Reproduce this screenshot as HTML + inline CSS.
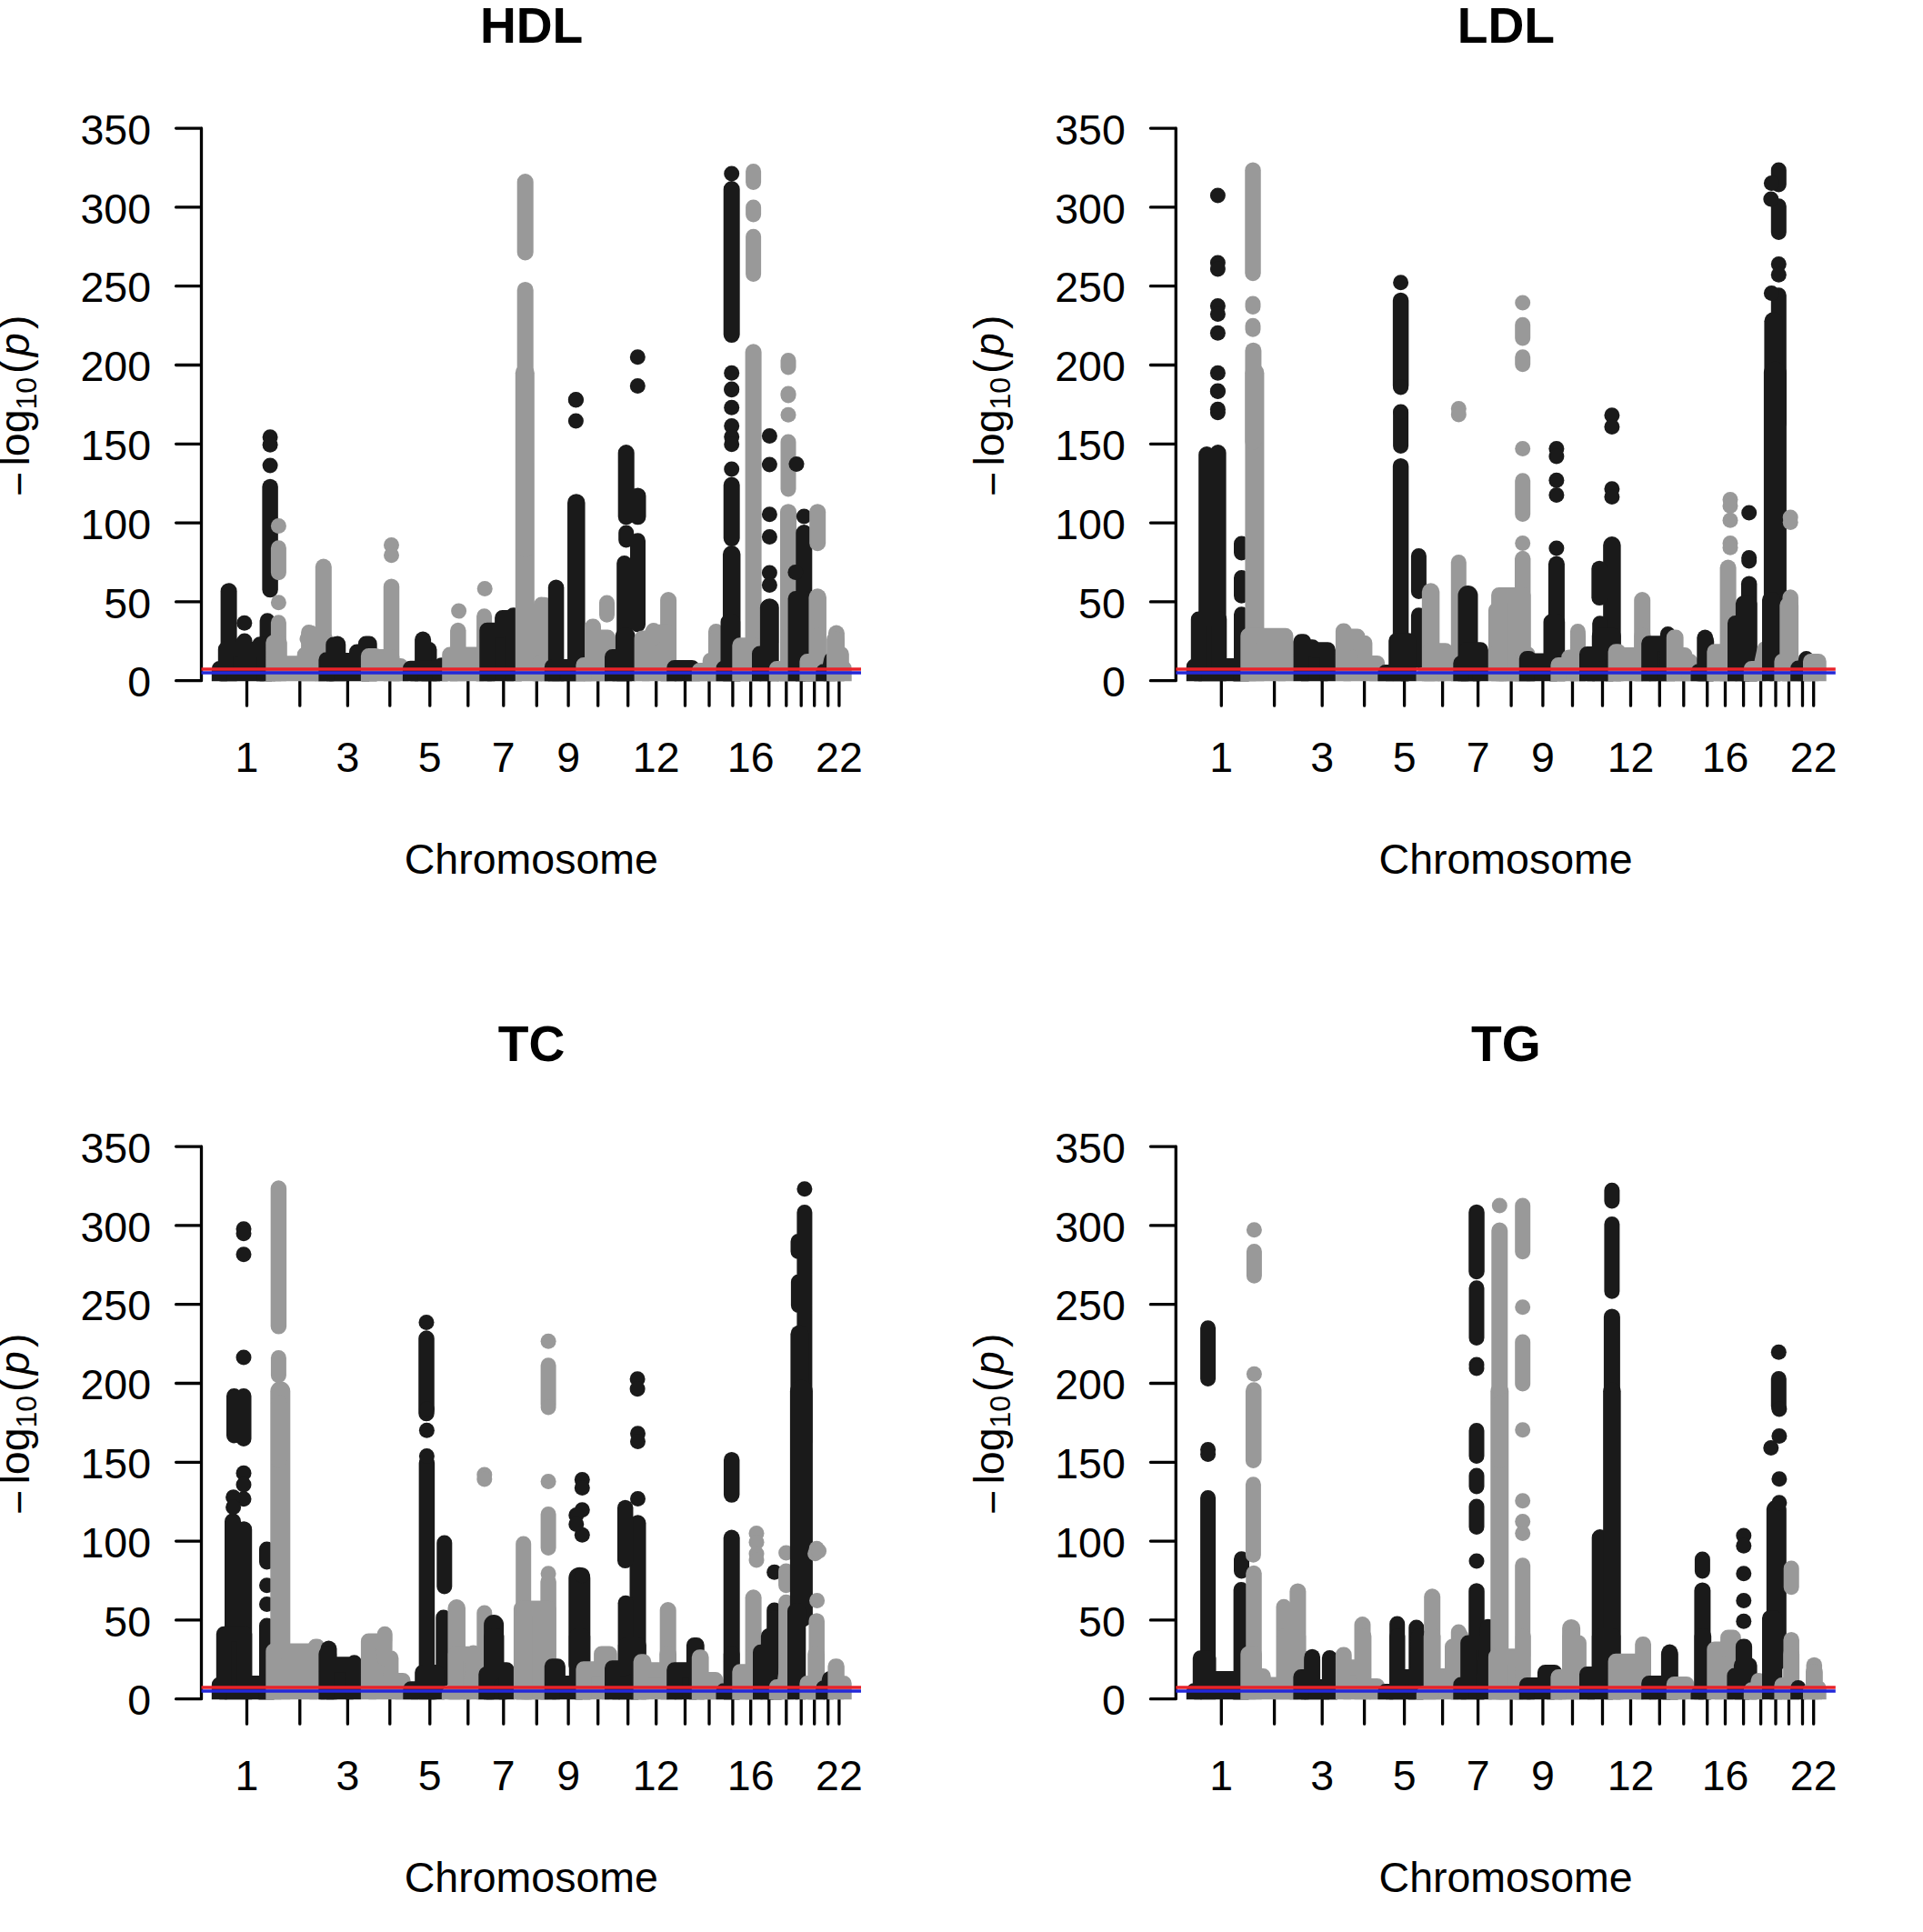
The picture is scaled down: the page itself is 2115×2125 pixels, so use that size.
<!DOCTYPE html>
<html lang="en"><head><meta charset="utf-8"><title>Manhattan plots: HDL, LDL, TC, TG</title>
<style>
html,body{margin:0;padding:0;background:#fff}
svg{display:block}
text{font-family:"Liberation Sans",Arial,Helvetica,sans-serif;fill:#000}
.ax path{fill:none;stroke:#000;stroke-width:3.3;stroke-linecap:round;stroke-linejoin:round}
.k{fill:#1a1a1a;stroke:#1a1a1a}
.g{fill:#999999;stroke:#999999}
.k path,.g path{fill:none;stroke-linecap:round;stroke-linejoin:round}
.k path.s,.g path.s{fill:inherit;stroke-width:17}
.k .s{fill:#1a1a1a}.g .s{fill:#999999}
circle{stroke:none;r:8.5px}
.rl{stroke:#e8232a;stroke-width:3.4;fill:none}
.bl{stroke:#2328d8;stroke-width:3.4;fill:none}
.ti{font-size:55.2px;font-weight:bold;text-anchor:middle}
.yl{font-size:46.5px;text-anchor:end}
.xl{font-size:46.5px;text-anchor:middle}
.lb{font-size:46.5px}
.sb{font-size:32px}
.it{font-style:italic}
</style></head><body>
<svg width="2115" height="2125" viewBox="0 0 2115 2125">
<defs><clipPath id="cp"><rect x="221.5" y="100" width="725.5" height="649.3"/></clipPath></defs>
<rect width="2115" height="2125" fill="#fff"/>
<g transform="translate(0,0)">
<g class="ax">
<path d="M221.5 141V748.7M221.5 748.7H193.6M221.5 661.9H193.6M221.5 575.1H193.6M221.5 488.3H193.6M221.5 401.5H193.6M221.5 314.7H193.6M221.5 227.9H193.6M221.5 141.1H193.6M271.5 748.7V776.2M329.8 748.7V776.2M382.4 748.7V776.2M428.8 748.7V776.2M472.8 748.7V776.2M514.8 748.7V776.2M553.8 748.7V776.2M590.3 748.7V776.2M625.1 748.7V776.2M657.7 748.7V776.2M690.7 748.7V776.2M721.7 748.7V776.2M753.5 748.7V776.2M780 748.7V776.2M805.9 748.7V776.2M825.7 748.7V776.2M845.8 748.7V776.2M864.8 748.7V776.2M881.2 748.7V776.2M895.7 748.7V776.2M910.7 748.7V776.2M922.9 748.7V776.2"/>
</g>
<g clip-path="url(#cp)">
<g class="k">
<path stroke-width="18" d="M251.6 650.2V750.7"/>
<path stroke-width="17" d="M294.1 682.8V750.7"/>
<path stroke-width="17.5" d="M297.1 535.5V648.6"/>
<path class="s" d="M241.3 760.7L241.3 760.7L241.3 735.5L248.3 735.5L248.3 714L269 714L269 705.1L269 705.1L261.9 714.6L285.8 714.6L285.8 708.7L290.6 708.7L290.6 760.7L290.6 760.7Z"/>
<circle cx="268.8" cy="685.3"/>
<circle cx="297.1" cy="480.8"/>
<circle cx="297.1" cy="489.3"/>
<circle cx="297.1" cy="512"/>
</g>
<g class="g">
<path stroke-width="17" d="M306.4 684.7V750.7M306.4 602.7V629.8M339.6 695.6V750.7"/>
<path stroke-width="18" d="M355.8 623.5V750.7"/>
<path class="s" d="M300.8 760.7L300.8 760.7L300.8 706.7L307.3 706.7L307.3 729.8L335.2 729.8L335.2 719.9L342.1 719.9L342.1 696.2L342.1 696.2L338 702.7L357.7 702.7L357.7 760.7L357.7 760.7Z"/>
<circle cx="306.4" cy="578.6"/>
<circle cx="306.4" cy="662.8"/>
</g>
<g class="k">
<path stroke-width="18" d="M371.2 708.5V750.7"/>
<path class="s" d="M358.9 760.7L358.9 760.7L358.9 725.8L366.8 725.8L366.8 709.1L371.6 709.1L371.6 726.4L392.5 726.4L392.5 717L402.4 717L402.4 708.1L406.2 708.1L406.2 760.7L406.2 760.7Z"/>
</g>
<g class="g">
<path stroke-width="17.5" d="M430.5 645.2V750.7"/>
<path class="s" d="M405.4 760.7L405.4 760.7L405.4 721.5L413.1 721.5L413.1 722.5L430.9 722.5L430.9 732.4L440.7 732.4L440.7 760.7L440.7 760.7Z"/>
<circle cx="430.5" cy="599.4"/>
<circle cx="430.5" cy="610.8"/>
</g>
<g class="k">
<path stroke-width="17" d="M472 714.6V750.7"/>
<path stroke-width="18" d="M465.1 703.5V750.7"/>
<path class="s" d="M451.4 760.7L451.4 760.7L451.4 735.3L485.4 735.3L485.4 731.8L485.4 731.8L483.2 760.7L483.2 760.7Z"/>
</g>
<g class="g">
<path stroke-width="17.5" d="M503.8 693.6V750.7"/>
<path stroke-width="17" d="M532.6 677.8V750.7"/>
<path class="s" d="M494.7 760.7L494.7 760.7L494.7 719.9L532.8 719.9L532.8 718.5L532.8 718.5L531.7 760.7L531.7 760.7Z"/>
<circle cx="504.6" cy="672.1"/>
<circle cx="533.2" cy="647.4"/>
</g>
<g class="k">
<path class="s" d="M535.8 760.7L535.8 760.7L535.8 693.2L552.6 693.2L552.6 679.4L564.5 679.4L564.5 676.8L565.3 676.8L565.3 760.7L565.3 760.7Z"/>
</g>
<g class="g">
<path stroke-width="21" d="M577.3 410.2V750.7"/>
<path stroke-width="17" d="M595.5 665V750.7M598.8 665.3V750.7"/>
<path stroke-width="18" d="M577.7 200V277.4M577.7 318.9V604.3"/>
<path class="s" d="M594.4 760.7L594.4 760.7L594.4 728.5L596.2 728.5L596.2 760.7L596.2 760.7Z"/>
</g>
<g class="k">
<path stroke-width="17.5" d="M611.6 646.2V750.7"/>
<path stroke-width="19.5" d="M633.8 552.9V750.7"/>
<path class="s" d="M607.3 760.7L607.3 760.7L607.3 733.5L624.9 733.5L624.9 760.7L624.9 760.7Z"/>
<circle cx="633.4" cy="439.5"/>
<circle cx="633.4" cy="463"/>
<circle cx="633.4" cy="439.9"/>
</g>
<g class="g">
<path stroke-width="17" d="M652.1 689.7V750.7M667.5 663V676.2"/>
<path class="s" d="M641.9 760.7L641.9 760.7L641.9 731.5L651.7 731.5L651.7 689L652.5 689L652.5 700.9L668.3 700.9L668.3 760.7L668.3 760.7Z"/>
</g>
<g class="k">
<path stroke-width="18" d="M688.7 498V568.3M701.5 545.4V568.3"/>
<path stroke-width="17" d="M688.7 585.9V594M686.7 619.5V750.7M701.5 594.8V686.9"/>
<path class="s" d="M673.5 760.7L673.5 760.7L673.5 722.6L685.3 722.6L685.3 699.3L690.1 699.3L690.1 760.7L690.1 760.7Z"/>
<circle cx="701.3" cy="392.8"/>
<circle cx="701.3" cy="424.5"/>
</g>
<g class="g">
<path stroke-width="18" d="M735.1 660V750.7"/>
<path class="s" d="M706.1 760.7L706.1 760.7L706.1 701.9L718.9 701.9L718.9 693.4L718.9 693.4L717.7 695.3L735.5 695.3L735.5 760.7L735.5 760.7Z"/>
</g>
<g class="k">
<path class="s" d="M741.7 760.7L741.7 760.7L741.7 734.5L761.2 734.5L761.2 760.7L761.2 760.7Z"/>
</g>
<g class="g">
<path stroke-width="17" d="M787.5 694.6V750.7"/>
<path class="s" d="M769.3 760.7L769.3 760.7L769.3 737.4L781.2 737.4L781.2 726.6L789.1 726.6L789.1 699.3L789.1 699.3L786.9 760.7L786.9 760.7Z"/>
</g>
<g class="k">
<path stroke-width="18" d="M804.7 533.6V592.1M804.7 208.1V368.1"/>
<path stroke-width="19.5" d="M804.7 609.8V750.7"/>
<path class="s" d="M796 760.7L796 760.7L796 734.9L801 734.9L801 684.1L805.7 684.1L805.7 760.7L805.7 760.7Z"/>
<circle cx="804.7" cy="428"/>
<circle cx="804.7" cy="448.2"/>
<circle cx="804.7" cy="468.5"/>
<circle cx="804.7" cy="480.4"/>
<circle cx="804.7" cy="488.7"/>
<circle cx="804.7" cy="516"/>
<circle cx="804.7" cy="190.9"/>
<circle cx="804.7" cy="410.2"/>
<circle cx="804.7" cy="428.8"/>
</g>
<g class="g">
<path stroke-width="18" d="M828.6 410.2V750.7M828.6 387.3V604.3"/>
<path stroke-width="17" d="M828.6 188.5V200.4M828.6 228V235.9M828.6 260.2V301.5"/>
<path class="s" d="M813.8 760.7L813.8 760.7L813.8 709.8L828.4 709.8L828.4 760.7L828.4 760.7Z"/>
</g>
<g class="k">
<path stroke-width="19.5" d="M846.4 667.9V706.7"/>
<path class="s" d="M835.5 760.7L835.5 760.7L835.5 719.1L844.4 719.1L844.4 667.9L848.2 667.9L848.2 760.7L848.2 760.7Z"/>
<circle cx="846.4" cy="479.4"/>
<circle cx="846.4" cy="511"/>
<circle cx="846.4" cy="565.8"/>
<circle cx="846.4" cy="590.5"/>
<circle cx="846.4" cy="630"/>
<circle cx="846.4" cy="643.4"/>
</g>
<g class="g">
<path stroke-width="18" d="M867 563.2V750.7"/>
<path stroke-width="17" d="M867 486.1V537.9M867 396.6V403.9"/>
<path class="s" d="M854.3 760.7L854.3 760.7L854.3 735.5L867.2 735.5L867.2 699.3L867.2 699.3L867 760.7L867 760.7Z"/>
<circle cx="867" cy="434.9"/>
<circle cx="867" cy="456.3"/>
<circle cx="867" cy="433"/>
</g>
<g class="k">
<path stroke-width="18" d="M884.3 586.1V750.7"/>
<path class="s" d="M875.1 760.7L875.1 760.7L875.1 658.4L885.7 658.4L885.7 760.7L885.7 760.7Z"/>
<circle cx="884.3" cy="568.1"/>
<circle cx="876" cy="510.4"/>
<circle cx="874.9" cy="629.6"/>
</g>
<g class="g">
<path stroke-width="19.5" d="M899.2 657.1V750.7"/>
<path stroke-width="18" d="M899.2 563.2V597.2"/>
<path class="s" d="M887.9 760.7L887.9 760.7L887.9 727.5L898.8 727.5L898.8 699.3L899.6 699.3L899.6 760.7L899.6 760.7Z"/>
</g>
<g class="k">
<path class="s" d="M905.7 760.7L905.7 760.7L905.7 738.8L914.6 738.8L914.6 725.6L914.6 725.6L907.5 760.7L907.5 760.7Z"/>
</g>
<g class="g">
<path stroke-width="18" d="M919.9 696.6V750.7"/>
<path class="s" d="M917.6 760.7L917.6 760.7L917.6 703.2L920.3 703.2L920.3 719.6L925.3 719.6L925.3 734.9L928.2 734.9L928.2 760.7L928.2 760.7Z"/>
</g>
</g>
<path class="bl" d="M221.5 740H947"/>
<path class="rl" d="M221.5 736H947"/>
<text class="ti" x="584.6" y="46.9">HDL</text>
<text class="yl" x="166" y="766.3">0</text>
<text class="yl" x="166" y="679.5">50</text>
<text class="yl" x="166" y="592.7">100</text>
<text class="yl" x="166" y="505.9">150</text>
<text class="yl" x="166" y="419.1">200</text>
<text class="yl" x="166" y="332.3">250</text>
<text class="yl" x="166" y="245.5">300</text>
<text class="yl" x="166" y="158.7">350</text>
<text class="xl" x="271.5" y="849.1">1</text>
<text class="xl" x="382.4" y="849.1">3</text>
<text class="xl" x="472.8" y="849.1">5</text>
<text class="xl" x="553.8" y="849.1">7</text>
<text class="xl" x="625.1" y="849.1">9</text>
<text class="xl" x="721.7" y="849.1">12</text>
<text class="xl" x="825.7" y="849.1">16</text>
<text class="xl" x="922.9" y="849.1">22</text>
<text class="xl" x="584.3" y="961">Chromosome</text>
<g transform="translate(32,546) rotate(-90)"><text class="lb" x="0" y="4.5">−</text><text class="lb" x="33.5" y="0">log</text><text class="sb" x="95.5" y="7.5">10</text><text class="lb" x="135" y="0">(</text><text class="lb it" x="154" y="0">p</text><text class="lb" x="184" y="0">)</text></g>
</g>
<g transform="translate(1071.8,0)">
<g class="ax">
<path d="M221.5 141V748.7M221.5 748.7H193.6M221.5 661.9H193.6M221.5 575.1H193.6M221.5 488.3H193.6M221.5 401.5H193.6M221.5 314.7H193.6M221.5 227.9H193.6M221.5 141.1H193.6M271.5 748.7V776.2M329.8 748.7V776.2M382.4 748.7V776.2M428.8 748.7V776.2M472.8 748.7V776.2M514.8 748.7V776.2M553.8 748.7V776.2M590.3 748.7V776.2M625.1 748.7V776.2M657.7 748.7V776.2M690.7 748.7V776.2M721.7 748.7V776.2M753.5 748.7V776.2M780 748.7V776.2M805.9 748.7V776.2M825.7 748.7V776.2M845.8 748.7V776.2M864.8 748.7V776.2M881.2 748.7V776.2M895.7 748.7V776.2M910.7 748.7V776.2M922.9 748.7V776.2"/>
</g>
<g clip-path="url(#cp)">
<g class="k">
<path stroke-width="18" d="M255.4 500V750.7M267.8 498V750.7"/>
<path stroke-width="17" d="M293.7 598V607.9M293.7 635.5V655.3M293.7 675.8V750.7"/>
<path class="s" d="M241.5 760.7L241.5 760.7L241.5 732.9L246.5 732.9L246.5 681.1L269 681.1L269 732.5L295.9 732.5L295.9 730.9L295.9 730.9L290.8 760.7L290.8 760.7Z"/>
<circle cx="267.6" cy="453.7"/>
<circle cx="267.6" cy="430"/>
<circle cx="267.6" cy="215"/>
<circle cx="267.6" cy="289.1"/>
<circle cx="267.6" cy="296"/>
<circle cx="267.6" cy="336.5"/>
<circle cx="267.6" cy="345.4"/>
<circle cx="267.6" cy="366.2"/>
<circle cx="267.6" cy="410.2"/>
<circle cx="267.6" cy="430.4"/>
<circle cx="267.6" cy="450.2"/>
</g>
<g class="g">
<path stroke-width="21" d="M308.1 410.2V750.7"/>
<path stroke-width="17.5" d="M306.2 187.3V300.4"/>
<path stroke-width="17" d="M306.2 334V337.5M306.2 358.3V362.2"/>
<path stroke-width="18" d="M306.6 385.7V485.7"/>
<path class="s" d="M301 760.7L301 760.7L301 699.3L342.1 699.3L342.1 760.7L342.1 760.7Z"/>
</g>
<g class="k">
<path class="s" d="M359.1 760.7L359.1 760.7L359.1 705.8L361.9 705.8L361.9 711.7L371.8 711.7L371.8 714.7L388.6 714.7L388.6 760.7L388.6 760.7Z"/>
</g>
<g class="g">
<path class="s" d="M405.6 760.7L405.6 760.7L405.6 694L406.4 694L406.4 699.9L421.2 699.9L421.2 707.2L429.1 707.2L429.1 729.5L442.9 729.5L442.9 760.7L442.9 760.7Z"/>
</g>
<g class="k">
<path stroke-width="17.5" d="M468.8 512.8V750.7M468.8 330.4V424.3"/>
<path stroke-width="17" d="M468.8 453.5V490.5M488.6 611.6V650.6M488.6 676.8V726.4"/>
<path class="s" d="M452 760.7L452 760.7L452 739.4L463.9 739.4L463.9 704.8L477.5 704.8L477.5 760.7L477.5 760.7Z"/>
<circle cx="468.8" cy="426"/>
<circle cx="468.8" cy="310.8"/>
<circle cx="468.8" cy="452.9"/>
</g>
<g class="g">
<path stroke-width="19.5" d="M501.8 651.1V750.7"/>
<path stroke-width="17" d="M532.5 618.5V750.7"/>
<path class="s" d="M494.5 760.7L494.5 760.7L494.5 742.8L501 742.8L501 715.7L518 715.7L518 760.7L518 760.7Z"/>
<circle cx="532.5" cy="449.6"/>
<circle cx="532.5" cy="455.9"/>
</g>
<g class="k">
<path stroke-width="22" d="M542.7 655.1V750.7"/>
<path class="s" d="M535 760.7L535 760.7L535 729.5L541 729.5L541 714.7L556.6 714.7L556.6 760.7L556.6 760.7Z"/>
</g>
<g class="g">
<path stroke-width="17" d="M602.9 357.3V372.1M602.9 392.8V400.8M602.9 528.8V565.4"/>
<path stroke-width="17.5" d="M602.9 614.6V750.7"/>
<path class="s" d="M573.6 760.7L573.6 760.7L573.6 671.2L587.4 671.2L587.4 654.4L599.1 654.4L599.1 760.7L599.1 760.7Z"/>
<path class="s" d="M576.8 760.7L576.8 760.7L576.8 654.4L603.3 654.4L603.3 719.6L608.3 719.6L608.3 760.7L608.3 760.7Z"/>
<circle cx="602.9" cy="333"/>
<circle cx="602.9" cy="493.6"/>
<circle cx="602.9" cy="597.6"/>
</g>
<g class="k">
<path stroke-width="18" d="M640.1 620.5V714.6"/>
<path class="s" d="M607.5 760.7L607.5 760.7L607.5 724.6L610.2 724.6L610.2 727L634.2 727L634.2 684.1L640.9 684.1L640.9 760.7L640.9 760.7Z"/>
<circle cx="640.1" cy="493.6"/>
<circle cx="640.1" cy="502.1"/>
<circle cx="640.1" cy="528.2"/>
<circle cx="640.1" cy="544.6"/>
<circle cx="640.1" cy="602.9"/>
</g>
<g class="g">
<path stroke-width="17" d="M663.6 694.6V750.7"/>
<path class="s" d="M642.1 760.7L642.1 760.7L642.1 731.5L653.9 731.5L653.9 723L663.8 723L663.8 699.3L663.8 699.3L663.6 760.7L663.6 760.7Z"/>
</g>
<g class="k">
<path stroke-width="19.5" d="M701.1 599.8V712.6"/>
<path stroke-width="17.5" d="M687.3 625.5V657.3"/>
<path stroke-width="17" d="M687.9 685.7V750.7"/>
<path class="s" d="M673.7 760.7L673.7 760.7L673.7 719.6L687.5 719.6L687.5 699.3L702.5 699.3L702.5 760.7L702.5 760.7Z"/>
<circle cx="701.1" cy="456.7"/>
<circle cx="701.1" cy="469.5"/>
<circle cx="701.1" cy="537.7"/>
<circle cx="701.1" cy="546.6"/>
</g>
<g class="g">
<path stroke-width="18" d="M734.4 660V750.7"/>
<path class="s" d="M705.3 760.7L705.3 760.7L705.3 716.7L708.1 716.7L708.1 720.6L734 720.6L734 699.3L735.3 699.3L735.3 760.7L735.3 760.7Z"/>
</g>
<g class="k">
<path class="s" d="M741.9 760.7L741.9 760.7L741.9 707.8L762.6 707.8L762.6 697.5L762.6 697.5L761.4 760.7L761.4 760.7Z"/>
</g>
<g class="g">
<path class="s" d="M769.5 760.7L769.5 760.7L769.5 700.9L771.3 700.9L771.3 720.6L781.2 720.6L781.2 727.5L787.1 727.5L787.1 760.7L787.1 760.7Z"/>
</g>
<g class="k">
<path stroke-width="18" d="M803.5 701.5V750.7"/>
<path class="s" d="M796.2 760.7L796.2 760.7L796.2 738.8L804.1 738.8L804.1 705.2L804.9 705.2L804.9 760.7L804.9 760.7Z"/>
</g>
<g class="g">
<path stroke-width="18" d="M828.8 624.5V750.7"/>
<path class="s" d="M814 760.7L814 760.7L814 716.7L828.8 716.7L828.8 699.3L830.6 699.3L830.6 760.7L830.6 760.7Z"/>
<circle cx="831.2" cy="549.6"/>
<circle cx="831.2" cy="556.5"/>
<circle cx="831.2" cy="572.3"/>
<circle cx="831.2" cy="597.6"/>
<circle cx="831.2" cy="602.3"/>
</g>
<g class="k">
<path stroke-width="17.5" d="M851.9 642.3V750.7"/>
<path class="s" d="M836.7 760.7L836.7 760.7L836.7 685.5L845.6 685.5L845.6 663.7L852.3 663.7L852.3 760.7L852.3 760.7Z"/>
<circle cx="851.9" cy="564"/>
<circle cx="851.9" cy="613.6"/>
<circle cx="851.9" cy="617"/>
</g>
<g class="g">
<path class="s" d="M854.5 760.7L854.5 760.7L854.5 735.5L869.3 735.5L869.3 713.7L869.3 713.7L859.2 760.7L859.2 760.7Z"/>
</g>
<g class="k">
<path stroke-width="17" d="M884.5 187.1V203.1M884.5 226.8V255.5M884.5 324.7V466"/>
<path stroke-width="20" d="M878.6 353.3V466"/>
<path stroke-width="25" d="M880.6 410.2V686.9"/>
<path class="s" d="M874.7 760.7L874.7 760.7L874.7 659.8L878 659.8L878 760.7L878 760.7Z"/>
<circle cx="876.6" cy="201.5"/>
<circle cx="876" cy="218.9"/>
<circle cx="884.5" cy="290.5"/>
<circle cx="884.5" cy="302.3"/>
<circle cx="876.6" cy="322.5"/>
</g>
<g class="g">
<path stroke-width="17.5" d="M897.4 657.1V750.7"/>
<path class="s" d="M888.1 760.7L888.1 760.7L888.1 727.5L894 727.5L894 665.7L897.8 665.7L897.8 760.7L897.8 760.7Z"/>
<circle cx="897.4" cy="569.1"/>
<circle cx="897.4" cy="574.5"/>
</g>
<g class="k">
<path class="s" d="M905.9 760.7L905.9 760.7L905.9 734.9L914.8 734.9L914.8 724.6L914.8 724.6L910 760.7L910 760.7Z"/>
</g>
<g class="g">
<path class="s" d="M919.7 760.7L919.7 760.7L919.7 727.5L928.4 727.5L928.4 760.7L928.4 760.7Z"/>
</g>
</g>
<path class="bl" d="M221.5 740H947"/>
<path class="rl" d="M221.5 736H947"/>
<text class="ti" x="584.6" y="46.9">LDL</text>
<text class="yl" x="166" y="766.3">0</text>
<text class="yl" x="166" y="679.5">50</text>
<text class="yl" x="166" y="592.7">100</text>
<text class="yl" x="166" y="505.9">150</text>
<text class="yl" x="166" y="419.1">200</text>
<text class="yl" x="166" y="332.3">250</text>
<text class="yl" x="166" y="245.5">300</text>
<text class="yl" x="166" y="158.7">350</text>
<text class="xl" x="271.5" y="849.1">1</text>
<text class="xl" x="382.4" y="849.1">3</text>
<text class="xl" x="472.8" y="849.1">5</text>
<text class="xl" x="553.8" y="849.1">7</text>
<text class="xl" x="625.1" y="849.1">9</text>
<text class="xl" x="721.7" y="849.1">12</text>
<text class="xl" x="825.7" y="849.1">16</text>
<text class="xl" x="922.9" y="849.1">22</text>
<text class="xl" x="584.3" y="961">Chromosome</text>
<g transform="translate(32,546) rotate(-90)"><text class="lb" x="0" y="4.5">−</text><text class="lb" x="33.5" y="0">log</text><text class="sb" x="95.5" y="7.5">10</text><text class="lb" x="135" y="0">(</text><text class="lb it" x="154" y="0">p</text><text class="lb" x="184" y="0">)</text></g>
</g>
<g transform="translate(0,1120)">
<g class="ax">
<path d="M221.5 141V748.7M221.5 748.7H193.6M221.5 661.9H193.6M221.5 575.1H193.6M221.5 488.3H193.6M221.5 401.5H193.6M221.5 314.7H193.6M221.5 227.9H193.6M221.5 141.1H193.6M271.5 748.7V776.2M329.8 748.7V776.2M382.4 748.7V776.2M428.8 748.7V776.2M472.8 748.7V776.2M514.8 748.7V776.2M553.8 748.7V776.2M590.3 748.7V776.2M625.1 748.7V776.2M657.7 748.7V776.2M690.7 748.7V776.2M721.7 748.7V776.2M753.5 748.7V776.2M780 748.7V776.2M805.9 748.7V776.2M825.7 748.7V776.2M845.8 748.7V776.2M864.8 748.7V776.2M881.2 748.7V776.2M895.7 748.7V776.2M910.7 748.7V776.2M922.9 748.7V776.2"/>
</g>
<g clip-path="url(#cp)">
<g class="k">
<path stroke-width="18" d="M256 553.3V750.7M268.2 562.2V750.7"/>
<path stroke-width="17" d="M257.5 415.4V458.9M268 415.4V462.6M293.5 584V598M293.5 667.9V750.7"/>
<path class="s" d="M241.3 760.7L241.3 760.7L241.3 732.9L246.3 732.9L246.3 677.2L268.8 677.2L268.8 731.5L295.7 731.5L295.7 728.9L295.7 728.9L290.6 760.7L290.6 760.7Z"/>
<circle cx="268" cy="500.2"/>
<circle cx="268" cy="513"/>
<circle cx="268" cy="528.8"/>
<circle cx="256.6" cy="526.8"/>
<circle cx="256.6" cy="537.7"/>
<circle cx="293.5" cy="623.7"/>
<circle cx="293.5" cy="644.4"/>
<circle cx="268" cy="231.8"/>
<circle cx="268" cy="236.7"/>
<circle cx="268" cy="259.8"/>
<circle cx="268" cy="373.1"/>
</g>
<g class="g">
<path stroke-width="22" d="M308.3 410.2V750.7"/>
<path stroke-width="17.5" d="M306.4 187.1V338.7"/>
<path stroke-width="17" d="M306.4 373.5V392.8"/>
<path stroke-width="18" d="M307 423.3V485.7"/>
<path class="s" d="M300.8 760.7L300.8 760.7L300.8 695.9L347.1 695.9L347.1 691L348.9 691L348.9 760.7L348.9 760.7Z"/>
</g>
<g class="k">
<path stroke-width="18" d="M361.5 693.6V750.7"/>
<path class="s" d="M358.9 760.7L358.9 760.7L358.9 699.3L361.7 699.3L361.7 710.8L389.6 710.8L389.6 708.8L389.6 708.8L388.4 760.7L388.4 760.7Z"/>
</g>
<g class="g">
<path class="s" d="M405.4 760.7L405.4 760.7L405.4 685.1L423.2 685.1L423.2 677.2L423.2 677.2L423 703.8L429.9 703.8L429.9 728.5L443.1 728.5L443.1 760.7L443.1 760.7Z"/>
</g>
<g class="k">
<path stroke-width="17.5" d="M469.4 489.3V750.7M469 352.1V434.5"/>
<path stroke-width="17" d="M488.8 577V624.9M487.8 659.1V726.4"/>
<path class="s" d="M451.8 760.7L451.8 760.7L451.8 737.8L464.7 737.8L464.7 719.6L480.3 719.6L480.3 760.7L480.3 760.7Z"/>
<circle cx="469.4" cy="430"/>
<circle cx="469.4" cy="453.3"/>
<circle cx="469.4" cy="481.4"/>
<circle cx="469" cy="334.5"/>
</g>
<g class="g">
<path stroke-width="19.5" d="M502.2 648.8V750.7"/>
<path stroke-width="17" d="M532.8 654.1V750.7"/>
<path class="s" d="M494.3 760.7L494.3 760.7L494.3 742.8L501.2 742.8L501.2 699.3L520.6 699.3L520.6 697.9L520.6 697.9L517.8 760.7L517.8 760.7Z"/>
<circle cx="532.8" cy="502.1"/>
<circle cx="532.8" cy="507.1"/>
</g>
<g class="k">
<path stroke-width="22" d="M543.1 667V750.7"/>
<path class="s" d="M534.8 760.7L534.8 760.7L534.8 721.6L540.8 721.6L540.8 679.5L545.9 679.5L545.9 716.7L557.3 716.7L557.3 760.7L557.3 760.7Z"/>
</g>
<g class="g">
<path stroke-width="17" d="M575.7 578V750.7M603.1 381.8V424.7M603.1 545.4V582.4"/>
<path stroke-width="17.5" d="M603.1 619.7V750.7"/>
<path class="s" d="M573.4 760.7L573.4 760.7L573.4 649.3L598.9 649.3L598.9 760.7L598.9 760.7Z"/>
<path class="s" d="M576.6 760.7L576.6 760.7L576.6 649.3L603.1 649.3L603.1 760.7L603.1 760.7Z"/>
<circle cx="603.1" cy="355.3"/>
<circle cx="603.1" cy="428"/>
<circle cx="603.1" cy="509.4"/>
<circle cx="603.1" cy="610.8"/>
</g>
<g class="k">
<path stroke-width="24" d="M637.3 615.8V710.6"/>
<path class="s" d="M607.3 760.7L607.3 760.7L607.3 712.7L613.4 712.7L613.4 731.5L634.3 731.5L634.3 679.5L640.7 679.5L640.7 760.7L640.7 760.7Z"/>
<circle cx="640.3" cy="507.5"/>
<circle cx="640.3" cy="516.6"/>
<circle cx="640.3" cy="540.7"/>
<circle cx="640.3" cy="568.3"/>
<circle cx="640.3" cy="612.8"/>
<circle cx="633.8" cy="546.6"/>
<circle cx="633.8" cy="556.5"/>
</g>
<g class="g">
<path class="s" d="M641.9 760.7L641.9 760.7L641.9 715.7L661.6 715.7L661.6 698.9L670.3 698.9L670.3 760.7L670.3 760.7Z"/>
</g>
<g class="k">
<path stroke-width="18" d="M701.5 555.3V706.7"/>
<path stroke-width="17.5" d="M687.7 538.5V596.2"/>
<path stroke-width="17" d="M688.1 643.2V750.7"/>
<path class="s" d="M673.5 760.7L673.5 760.7L673.5 714.7L688.3 714.7L688.3 689.4L702.3 689.4L702.3 760.7L702.3 760.7Z"/>
<circle cx="701.1" cy="396.8"/>
<circle cx="701.1" cy="407.7"/>
<circle cx="701.5" cy="456.7"/>
<circle cx="701.5" cy="465.6"/>
<circle cx="701.5" cy="528.4"/>
</g>
<g class="g">
<path stroke-width="18" d="M734.7 651.1V750.7"/>
<path class="s" d="M705.1 760.7L705.1 760.7L705.1 707.8L707.9 707.8L707.9 716.7L733.8 716.7L733.8 699.3L735.5 699.3L735.5 760.7L735.5 760.7Z"/>
</g>
<g class="k">
<path class="s" d="M741.7 760.7L741.7 760.7L741.7 716.7L763.4 716.7L763.4 689.4L766.2 689.4L766.2 760.7L766.2 760.7Z"/>
</g>
<g class="g">
<path class="s" d="M769.3 760.7L769.3 760.7L769.3 702.8L771.1 702.8L771.1 727.5L786.9 727.5L786.9 760.7L786.9 760.7Z"/>
</g>
<g class="k">
<path stroke-width="18" d="M804.7 571.5V750.7"/>
<path stroke-width="17.5" d="M804.7 485.7V524.1"/>
<path class="s" d="M796 760.7L796 760.7L796 739.8L804.3 739.8L804.3 699.3L805.1 699.3L805.1 760.7L805.1 760.7Z"/>
</g>
<g class="g">
<path stroke-width="18" d="M828.6 637.3V750.7"/>
<path class="s" d="M813.8 760.7L813.8 760.7L813.8 718.7L828.6 718.7L828.6 699.3L830.4 699.3L830.4 760.7L830.4 760.7Z"/>
<circle cx="832" cy="566.4"/>
<circle cx="832" cy="576.2"/>
<circle cx="832" cy="589.1"/>
<circle cx="832" cy="596"/>
</g>
<g class="k">
<path stroke-width="17" d="M851.7 651.1V750.7"/>
<path class="s" d="M836.5 760.7L836.5 760.7L836.5 697.3L845.4 697.3L845.4 679.5L853.3 679.5L853.3 659.8L853.3 659.8L850.2 760.7L850.2 760.7Z"/>
<circle cx="851.7" cy="609.2"/>
</g>
<g class="g">
<path stroke-width="17" d="M864.6 642.3V750.7M864.6 607.9V623.7"/>
<path class="s" d="M854.3 760.7L854.3 760.7L854.3 735.5L867.6 735.5L867.6 699.3L867.6 699.3L859 760.7L859 760.7Z"/>
<circle cx="864.6" cy="588.1"/>
</g>
<g class="k">
<path stroke-width="17" d="M884.9 213.4V466M878 245.4V256.5M878.4 290.1V315.8"/>
<path stroke-width="20" d="M879.4 347.4V466"/>
<path stroke-width="25" d="M881.4 410.2V657.3"/>
<path class="s" d="M874.5 760.7L874.5 760.7L874.5 651.9L877.8 651.9L877.8 760.7L877.8 760.7Z"/>
<circle cx="884.9" cy="187.7"/>
</g>
<g class="g">
<path stroke-width="17.5" d="M898.2 663V750.7"/>
<path class="s" d="M887.9 760.7L887.9 760.7L887.9 731.5L896.8 731.5L896.8 699.3L898.6 699.3L898.6 760.7L898.6 760.7Z"/>
<circle cx="898.2" cy="583.2"/>
<circle cx="896.6" cy="588.7"/>
<circle cx="900.6" cy="586.1"/>
<circle cx="898.6" cy="640.5"/>
</g>
<g class="k">
<path class="s" d="M905.7 760.7L905.7 760.7L905.7 736.8L912.6 736.8L912.6 726.6L912.6 726.6L905.9 760.7L905.9 760.7Z"/>
</g>
<g class="g">
<path class="s" d="M918.9 760.7L918.9 760.7L918.9 712.7L920.3 712.7L920.3 731.5L928.2 731.5L928.2 760.7L928.2 760.7Z"/>
</g>
</g>
<path class="bl" d="M221.5 740H947"/>
<path class="rl" d="M221.5 736H947"/>
<text class="ti" x="584.6" y="46.9">TC</text>
<text class="yl" x="166" y="766.3">0</text>
<text class="yl" x="166" y="679.5">50</text>
<text class="yl" x="166" y="592.7">100</text>
<text class="yl" x="166" y="505.9">150</text>
<text class="yl" x="166" y="419.1">200</text>
<text class="yl" x="166" y="332.3">250</text>
<text class="yl" x="166" y="245.5">300</text>
<text class="yl" x="166" y="158.7">350</text>
<text class="xl" x="271.5" y="849.1">1</text>
<text class="xl" x="382.4" y="849.1">3</text>
<text class="xl" x="472.8" y="849.1">5</text>
<text class="xl" x="553.8" y="849.1">7</text>
<text class="xl" x="625.1" y="849.1">9</text>
<text class="xl" x="721.7" y="849.1">12</text>
<text class="xl" x="825.7" y="849.1">16</text>
<text class="xl" x="922.9" y="849.1">22</text>
<text class="xl" x="584.3" y="961">Chromosome</text>
<g transform="translate(32,546) rotate(-90)"><text class="lb" x="0" y="4.5">−</text><text class="lb" x="33.5" y="0">log</text><text class="sb" x="95.5" y="7.5">10</text><text class="lb" x="135" y="0">(</text><text class="lb it" x="154" y="0">p</text><text class="lb" x="184" y="0">)</text></g>
</g>
<g transform="translate(1071.8,1120)">
<g class="ax">
<path d="M221.5 141V748.7M221.5 748.7H193.6M221.5 661.9H193.6M221.5 575.1H193.6M221.5 488.3H193.6M221.5 401.5H193.6M221.5 314.7H193.6M221.5 227.9H193.6M221.5 141.1H193.6M271.5 748.7V776.2M329.8 748.7V776.2M382.4 748.7V776.2M428.8 748.7V776.2M472.8 748.7V776.2M514.8 748.7V776.2M553.8 748.7V776.2M590.3 748.7V776.2M625.1 748.7V776.2M657.7 748.7V776.2M690.7 748.7V776.2M721.7 748.7V776.2M753.5 748.7V776.2M780 748.7V776.2M805.9 748.7V776.2M825.7 748.7V776.2M845.8 748.7V776.2M864.8 748.7V776.2M881.2 748.7V776.2M895.7 748.7V776.2M910.7 748.7V776.2M922.9 748.7V776.2"/>
</g>
<g clip-path="url(#cp)">
<g class="k">
<path stroke-width="17" d="M256.8 527.6V750.7M293.7 594.8V607.9M293.3 628.4V750.7M256.8 340.7V396.4"/>
<path class="s" d="M241.5 760.7L241.5 760.7L241.5 739.8L248.5 739.8L248.5 703.8L257.2 703.8L257.2 726.6L296.9 726.6L296.9 725L296.9 725L290.8 760.7L290.8 760.7Z"/>
<circle cx="256.8" cy="474.5"/>
<circle cx="256.8" cy="479.4"/>
</g>
<g class="g">
<path stroke-width="17" d="M306.6 410.2V486.5M306.6 512.8V590.3M340.2 647.2V750.7M307.6 256.5V283.2M307.2 408.7V485.7"/>
<path stroke-width="17.5" d="M307.2 610.6V750.7"/>
<path stroke-width="18" d="M355.6 630.4V750.7"/>
<path class="s" d="M301 760.7L301 760.7L301 699.3L307.5 699.3L307.5 723.6L317.4 723.6L317.4 732.9L341 732.9L341 679.5L356 679.5L356 760.7L356 760.7Z"/>
<circle cx="307.6" cy="232.8"/>
<circle cx="307.6" cy="391.3"/>
</g>
<g class="k">
<path stroke-width="17.5" d="M371.4 702.5V750.7"/>
<path stroke-width="17" d="M390.6 703.5V750.7"/>
<path class="s" d="M359.1 760.7L359.1 760.7L359.1 724.6L371 724.6L371 705.2L371.8 705.2L371.8 735.5L392.3 735.5L392.3 705.2L392.3 705.2L389.6 760.7L389.6 760.7Z"/>
</g>
<g class="g">
<path stroke-width="18" d="M426.7 667V750.7"/>
<path class="s" d="M405.6 760.7L405.6 760.7L405.6 699.9L406.4 699.9L406.4 713.7L427.3 713.7L427.3 679.5L428.1 679.5L428.1 734.5L442.9 734.5L442.9 760.7L442.9 760.7Z"/>
</g>
<g class="k">
<path stroke-width="17" d="M464.9 666V750.7M486 669.9V750.7"/>
<path class="s" d="M452 760.7L452 760.7L452 740.4L464.9 740.4L464.9 679.5L465.1 679.5L465.1 724.6L488.6 724.6L488.6 679.5L488.6 679.5L484.4 760.7L484.4 760.7Z"/>
</g>
<g class="g">
<path stroke-width="18" d="M503.4 636.3V750.7"/>
<path stroke-width="17" d="M532.5 674.9V750.7"/>
<path class="s" d="M494.5 760.7L494.5 760.7L494.5 742.8L502.4 742.8L502.4 679.5L504.2 679.5L504.2 723.6L525.7 723.6L525.7 691L535 691L535 679.5L535 679.5L531.9 760.7L531.9 760.7Z"/>
</g>
<g class="k">
<path stroke-width="17.5" d="M552.2 630V750.7M552.2 213.4V278.4"/>
<path stroke-width="17" d="M552.2 453.5V481.6M552.2 503.1V515M552.2 536.9V559.6M552.2 296.8V351.5"/>
<path class="s" d="M535 760.7L535 760.7L535 732.9L542.9 732.9L542.9 687L564.7 687L564.7 669.2L564.7 669.2L559.5 760.7L559.5 760.7Z"/>
<circle cx="552.2" cy="597"/>
<circle cx="552.2" cy="381"/>
<circle cx="552.2" cy="384.9"/>
</g>
<g class="g">
<path stroke-width="20" d="M577.5 410.2V750.7"/>
<path stroke-width="18" d="M577.5 233.6V405.9M577.5 424.3V485.7"/>
<path stroke-width="17" d="M602.9 205.9V256.7M602.9 356.1V401.9M602.9 601.7V750.7"/>
<path class="s" d="M573.6 760.7L573.6 760.7L573.6 701.9L599.1 701.9L599.1 760.7L599.1 760.7Z"/>
<path class="s" d="M576.8 760.7L576.8 760.7L576.8 701.9L603.5 701.9L603.5 679.5L603.5 679.5L603.3 760.7L603.3 760.7Z"/>
<circle cx="577.5" cy="206.1"/>
<circle cx="602.9" cy="317.7"/>
<circle cx="602.9" cy="452.7"/>
<circle cx="602.9" cy="530.8"/>
<circle cx="602.9" cy="553.5"/>
<circle cx="602.9" cy="566.4"/>
</g>
<g class="k">
<path class="s" d="M607.5 760.7L607.5 760.7L607.5 733.5L627.6 733.5L627.6 719.6L637.9 719.6L637.9 760.7L637.9 760.7Z"/>
</g>
<g class="g">
<path stroke-width="20" d="M656.3 670.9V750.7"/>
<path class="s" d="M642.1 760.7L642.1 760.7L642.1 724.6L654.9 724.6L654.9 679.5L657.7 679.5L657.7 687L664.6 687L664.6 760.7L664.6 760.7Z"/>
</g>
<g class="k">
<path stroke-width="17" d="M701.1 189.3V201.1M701.1 226.6V300.2"/>
<path stroke-width="18" d="M701.1 328.4V485.7M687.9 571.1V714.6"/>
<path stroke-width="19.5" d="M701.1 410.2V710.6"/>
<path class="s" d="M673.7 760.7L673.7 760.7L673.7 721.6L687.5 721.6L687.5 679.5L702.1 679.5L702.1 760.7L702.1 760.7Z"/>
</g>
<g class="g">
<path class="s" d="M705.3 760.7L705.3 760.7L705.3 707.2L734.9 707.2L734.9 688.6L735.7 688.6L735.7 760.7L735.7 760.7Z"/>
</g>
<g class="k">
<path stroke-width="18" d="M764.6 697.6V750.7"/>
<path class="s" d="M741.9 760.7L741.9 760.7L741.9 731.5L763.6 731.5L763.6 699.3L765.4 699.3L765.4 760.7L765.4 760.7Z"/>
</g>
<g class="g">
<path class="s" d="M769.5 760.7L769.5 760.7L769.5 732.5L783.2 732.5L783.2 760.7L783.2 760.7Z"/>
</g>
<g class="k">
<path stroke-width="18" d="M800.6 629.4V750.7"/>
<path stroke-width="17" d="M800.6 595V607.9"/>
<path class="s" d="M796.2 760.7L796.2 760.7L796.2 742.8L800.2 742.8L800.2 679.5L801.9 679.5L801.9 760.7L801.9 760.7Z"/>
</g>
<g class="g">
<path class="s" d="M814 760.7L814 760.7L814 694L828.8 694L828.8 681.1L834.5 681.1L834.5 760.7L834.5 760.7Z"/>
</g>
<g class="k">
<path class="s" d="M836.1 760.7L836.1 760.7L836.1 723L843.6 723L843.6 711.7L845.6 711.7L845.6 691L846.8 691L846.8 711.7L852.3 711.7L852.3 760.7L852.3 760.7Z"/>
<circle cx="846" cy="569.1"/>
<circle cx="846" cy="580.2"/>
<circle cx="846" cy="610.8"/>
<circle cx="846" cy="640.5"/>
<circle cx="846" cy="663.2"/>
</g>
<g class="g">
<path class="s" d="M854.5 760.7L854.5 760.7L854.5 738.8L862.4 738.8L862.4 728.5L862.4 728.5L857.7 760.7L857.7 760.7Z"/>
</g>
<g class="k">
<path stroke-width="17" d="M884.5 396.6V426.6"/>
<path stroke-width="22" d="M882 540.7V706.7"/>
<path class="s" d="M874.7 760.7L874.7 760.7L874.7 659.8L880 659.8L880 760.7L880 760.7Z"/>
<circle cx="884.5" cy="367.2"/>
<circle cx="885.1" cy="430"/>
<circle cx="885.1" cy="459.6"/>
<circle cx="885.1" cy="506.7"/>
<circle cx="885.1" cy="532.8"/>
<circle cx="876" cy="472.5"/>
</g>
<g class="g">
<path stroke-width="17.5" d="M898.4 683.8V750.7"/>
<path stroke-width="17" d="M898.4 604.9V625.7"/>
<path class="s" d="M888.1 760.7L888.1 760.7L888.1 733.5L898 733.5L898 699.3L898.8 699.3L898.8 760.7L898.8 760.7Z"/>
</g>
<g class="k">
<path class="s" d="M905.9 760.7L905.9 760.7L905.9 736.4L906.1 736.4L906.1 760.7L906.1 760.7Z"/>
</g>
<g class="g">
<path stroke-width="17.5" d="M923.5 711.4V750.7"/>
<path class="s" d="M919.7 760.7L919.7 760.7L919.7 738.8L922.7 738.8L922.7 719.1L924.5 719.1L924.5 736.8L928.4 736.8L928.4 760.7L928.4 760.7Z"/>
</g>
</g>
<path class="bl" d="M221.5 740H947"/>
<path class="rl" d="M221.5 736H947"/>
<text class="ti" x="584.6" y="46.9">TG</text>
<text class="yl" x="166" y="766.3">0</text>
<text class="yl" x="166" y="679.5">50</text>
<text class="yl" x="166" y="592.7">100</text>
<text class="yl" x="166" y="505.9">150</text>
<text class="yl" x="166" y="419.1">200</text>
<text class="yl" x="166" y="332.3">250</text>
<text class="yl" x="166" y="245.5">300</text>
<text class="yl" x="166" y="158.7">350</text>
<text class="xl" x="271.5" y="849.1">1</text>
<text class="xl" x="382.4" y="849.1">3</text>
<text class="xl" x="472.8" y="849.1">5</text>
<text class="xl" x="553.8" y="849.1">7</text>
<text class="xl" x="625.1" y="849.1">9</text>
<text class="xl" x="721.7" y="849.1">12</text>
<text class="xl" x="825.7" y="849.1">16</text>
<text class="xl" x="922.9" y="849.1">22</text>
<text class="xl" x="584.3" y="961">Chromosome</text>
<g transform="translate(32,546) rotate(-90)"><text class="lb" x="0" y="4.5">−</text><text class="lb" x="33.5" y="0">log</text><text class="sb" x="95.5" y="7.5">10</text><text class="lb" x="135" y="0">(</text><text class="lb it" x="154" y="0">p</text><text class="lb" x="184" y="0">)</text></g>
</g>
</svg></body></html>
